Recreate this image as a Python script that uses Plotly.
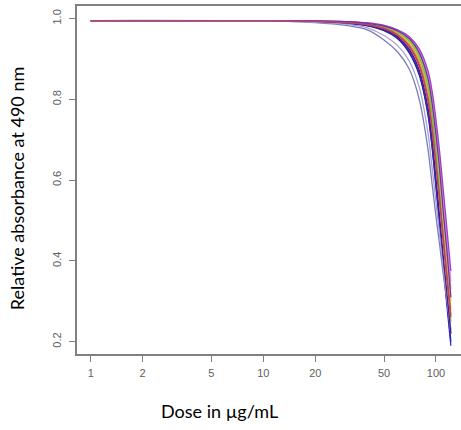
import plotly.graph_objects as go

doses = [1, 10, 20, 30, 40, 50, 60, 70, 80, 90, 95, 100, 105, 110, 116, 122]

x_ticks = [1, 2, 5, 10, 20, 50, 100]
y_ticks = [0.2, 0.4, 0.6, 0.8, 1.0]

lavender = [0.995, 0.994, 0.990, 0.983, 0.972, 0.947, 0.917, 0.875, 0.800, 0.675, 0.590, 0.510, 0.440, 0.370, 0.300, 0.230]
light_lavender = [0.995, 0.994, 0.991, 0.986, 0.977, 0.958, 0.933, 0.895, 0.830, 0.715, 0.630, 0.545, 0.465, 0.385, 0.305, 0.220]
navy = [0.995, 0.995, 0.992, 0.988, 0.982, 0.970, 0.950, 0.915, 0.860, 0.760, 0.680, 0.585, 0.490, 0.395, 0.295, 0.200]
blue = [0.995, 0.995, 0.992, 0.988, 0.983, 0.972, 0.953, 0.920, 0.865, 0.765, 0.685, 0.585, 0.485, 0.385, 0.285, 0.190]
dark_purple = [0.995, 0.995, 0.993, 0.989, 0.984, 0.973, 0.955, 0.924, 0.872, 0.778, 0.700, 0.605, 0.510, 0.415, 0.315, 0.220]
red = [0.995, 0.995, 0.993, 0.990, 0.985, 0.975, 0.958, 0.930, 0.882, 0.795, 0.722, 0.635, 0.545, 0.450, 0.350, 0.260]
maroon = [0.995, 0.995, 0.993, 0.990, 0.985, 0.976, 0.960, 0.933, 0.887, 0.802, 0.730, 0.645, 0.555, 0.460, 0.360, 0.265]
orange = [0.995, 0.995, 0.993, 0.990, 0.986, 0.977, 0.962, 0.937, 0.895, 0.815, 0.748, 0.665, 0.575, 0.480, 0.380, 0.280]
yellow = [0.995, 0.995, 0.994, 0.991, 0.987, 0.979, 0.965, 0.941, 0.900, 0.825, 0.757, 0.672, 0.578, 0.478, 0.372, 0.270]
green = [0.995, 0.995, 0.994, 0.991, 0.987, 0.980, 0.966, 0.944, 0.905, 0.832, 0.762, 0.672, 0.572, 0.465, 0.355, 0.250]
light_green = [0.995, 0.995, 0.994, 0.991, 0.988, 0.981, 0.968, 0.947, 0.910, 0.843, 0.780, 0.700, 0.610, 0.510, 0.405, 0.300]
purple = [0.995, 0.995, 0.994, 0.992, 0.988, 0.981, 0.969, 0.950, 0.915, 0.850, 0.790, 0.712, 0.625, 0.525, 0.420, 0.310]
grey = [0.995, 0.995, 0.994, 0.992, 0.988, 0.982, 0.970, 0.952, 0.919, 0.858, 0.800, 0.725, 0.640, 0.545, 0.440, 0.330]
pink = [0.995, 0.995, 0.994, 0.992, 0.989, 0.983, 0.971, 0.954, 0.922, 0.864, 0.810, 0.737, 0.655, 0.560, 0.455, 0.350]
violet = [0.995, 0.995, 0.994, 0.992, 0.989, 0.983, 0.972, 0.955, 0.925, 0.870, 0.820, 0.750, 0.670, 0.580, 0.475, 0.375]

series = [
    ("navy", navy, "#1c1c78"),
    ("blue", blue, "#2a2ad8"),
    ("lavender", lavender, "#7c7cb8"),
    ("light lavender", light_lavender, "#a4a4d4"),
    ("grey", grey, "#a8b4c8"),
    ("light green", light_green, "#a8e070"),
    ("yellow", yellow, "#e6d840"),
    ("orange", orange, "#f4a030"),
    ("green", green, "#70c830"),
    ("dark purple", dark_purple, "#4b1a80"),
    ("red", red, "#d83a3a"),
    ("pink", pink, "#d890d8"),
    ("violet", violet, "#9a40c8"),
    ("purple", purple, "#7a2aa8"),
    ("maroon", maroon, "#b04a70"),
]

fig = go.Figure()
for name, vals, col in series:
    fig.add_trace(go.Scatter(x=doses, y=vals, mode="lines", name=name,
                             line=dict(color=col, width=1.3, shape="spline", smoothing=0.8),
                             showlegend=False, hoverinfo="skip"))

axis_col = "#808080"
tick_font = dict(family="Liberation Sans, Arial, sans-serif", size=11, color="#606060")

fig.update_layout(
    width=461, height=430,
    margin=dict(l=77, r=0, t=6, b=76, autoexpand=False),
    paper_bgcolor="white", plot_bgcolor="white",
    xaxis=dict(type="log", range=[-0.0794, 2.145], tickvals=x_ticks,
               ticktext=[str(v) for v in x_ticks], automargin=False,
               showgrid=False, zeroline=False, showline=True, linecolor=axis_col, linewidth=1.5,
               mirror=True, ticks="outside", ticklen=6, tickcolor=axis_col, tickwidth=1,
               tickfont=tick_font, ticklabelstandoff=2),
    yaxis=dict(range=[0.1695, 1.031], tickvals=y_ticks, tickformat=".1f", automargin=False,
               showgrid=False, zeroline=False, showline=True, linecolor=axis_col, linewidth=1.5,
               ticks="outside", ticklen=6, tickcolor=axis_col, tickwidth=1,
               tickfont=tick_font, tickangle=-90, ticklabelstandoff=4),
    annotations=[
        dict(text="Dose in µg/mL", xref="paper", yref="paper", x=0.372, y=-0.164,
             xanchor="center", yanchor="middle", showarrow=False,
             font=dict(family="Lato, Open Sans, sans-serif", size=18, color="black")),
        dict(text="Relative absorbance at 490 nm", xref="paper", yref="paper", x=-0.156, y=0.474,
             xanchor="center", yanchor="middle", showarrow=False, textangle=-90,
             font=dict(family="Lato, Open Sans, sans-serif", size=18, color="black")),
    ],
)

fig.write_html("out.html", config={"displayModeBar": False},
               post_script="document.body.style.margin='0px';document.body.style.overflow='hidden';")
